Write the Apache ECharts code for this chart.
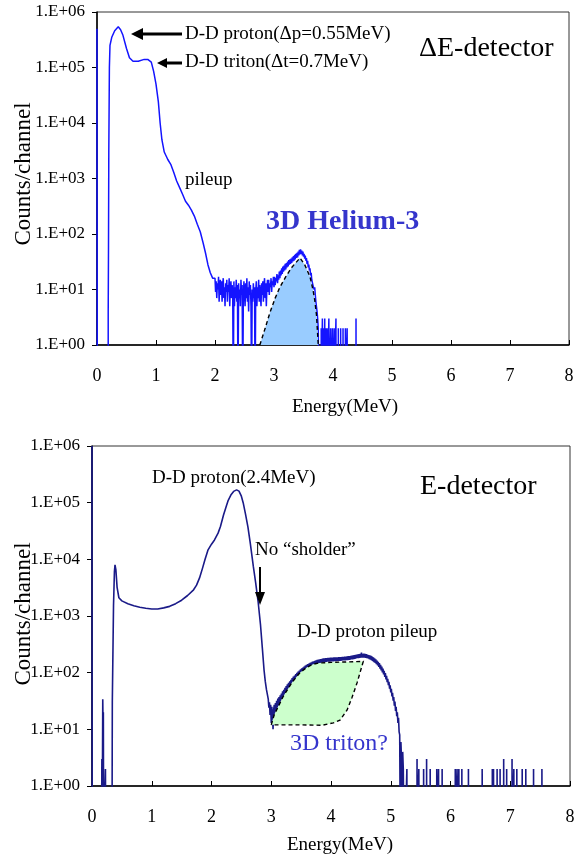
<!DOCTYPE html>
<html><head><meta charset="utf-8">
<script src="https://cdn.jsdelivr.net/npm/echarts@6/dist/echarts.min.js"></script>
<style>html,body{margin:0;padding:0;background:#fff}#c{width:584px;height:854px}</style>
</head><body><div id="c"></div>
<script>
// ---------- tick labels ----------
const xTickLabels = ['0','1','2','3','4','5','6','7','8'];
const yTickLabels = ['1.E+00','1.E+01','1.E+02','1.E+03','1.E+04','1.E+05','1.E+06'];

// ---------- ΔE-detector spectrum ----------
// smooth part [energy MeV, counts]
const deHead = [[0,5e5],[0,7000],[0.005,0],[0.19,0],[0.19,4],[0.195,60],[0.2,3000],[0.21,1e5],[0.22,2.5e5],[0.25,3.5e5],[0.3,4.6e5],[0.36,5.4e5],[0.4,4.8e5],[0.44,3.8e5],[0.5,2.2e5],[0.55,1.5e5],[0.61,1.3e5],[0.7,1.3e5],[0.8,1.4e5],[0.86,1.4e5],[0.92,1.25e5],[0.96,8.5e4],[1.0,5e4],[1.04,2.4e4],[1.07,1.0e4],[1.1,5000],[1.14,3000],[1.2,2200],[1.25,1800],[1.3,1300],[1.35,900],[1.41,650],[1.45,520],[1.5,390],[1.55,330],[1.6,270],[1.65,210],[1.7,150],[1.75,110],[1.8,68],[1.84,45],[1.88,28],[1.92,20],[1.96,16]];
// noisy part, one value per 0.01 MeV channel starting at 2.00 MeV
const deNoiseStart = 2.00;
const deNoise = [
16,9,14,7,13,10,17,6,12,15, 8,14,6,12,16,7,11,5,13,9,
15,6,12,9,16,5,11,14,7,12, 9,0,14,5,11,7,15,6,12,0,
13,7,10,5,15,8,12,0,6,14, 9,5,13,7,16,6,11,4,14,8,
12,5,0,10,6,13,7,11,0,9, 14,5,11,7,15,6,12,8,5,13,
8,14,6,12,16,7,13,5,11,15, 9,15,8,13,11,16,9,14,12,17,
11,17,12,16,14,19,13,18,15,21, 16,22,18,24,19,26,21,27,22,29,
23,30,25,32,26,34,28,35,29,36, 30,38,32,40,33,42,35,44,37,46,
38,48,41,52,43,53,44,50,41,48, 39,44,36,41,33,37,29,33,25,28,
22,24,18,20,15,16,12,13,10,11, 8,6,6,4,3,2,0,0,0,0];
// isolated single counts above 3.8 MeV
const deTailE = [3.80,3.82,3.84,3.86,3.88,3.90,3.93,3.96,3.99,4.02,4.05,4.09,4.13,4.17,4.21,4.24,4.39];
const deTailC = [2,3,2,3,2,2,3,2,2,2,3,2,2,2,2,2,3];
// 3D Helium-3 region (dashed outline)
const deFill = [[2.76,1],[2.85,2],[2.93,3.8],[3.02,7],[3.1,11],[3.2,17],[3.3,25],[3.44,37],[3.52,28],[3.61,17],[3.66,10],[3.69,6.5],[3.72,3.5],[3.75,1]];

// ---------- E-detector spectrum ----------
const eHead = [[0,1e6],[0,3.5e4],[0.004,0],[0.16,0],[0.165,3],[0.17,0],[0.175,0],[0.18,34],[0.185,12],[0.19,20],[0.195,0],[0.22,0],[0.225,2],[0.23,0],[0.335,0],[0.34,30],[0.35,30],[0.36,1500],[0.375,6000],[0.385,8000],[0.4,6500],[0.42,3200],[0.45,2100],[0.5,1850],[0.6,1650],[0.7,1520],[0.8,1430],[0.9,1370],[1.0,1330],[1.1,1330],[1.2,1390],[1.3,1480],[1.4,1650],[1.5,1900],[1.6,2300],[1.7,2900],[1.75,3500],[1.8,4700],[1.85,7000],[1.89,9800],[1.94,14500],[2.0,18500],[2.05,22000],[2.11,29000],[2.15,38000],[2.2,60000],[2.25,88000],[2.28,110000],[2.33,140000],[2.37,158000],[2.42,168000],[2.46,160000],[2.5,130000],[2.53,100000],[2.57,62000],[2.61,37000],[2.65,19000],[2.7,7500],[2.74,3800],[2.78,1800],[2.82,700],[2.85,280],[2.88,110],[2.9,70],[2.92,50]];
const eNoiseStart = 2.95;
const eNoise = [
34,24,30,18,27,13,25,17,10,22, 27,18,29,21,32,24,35,26,37,28,
40,31,43,34,47,37,50,40,54,44, 58,47,62,51,66,55,70,58,75,62,
80,67,85,71,89,75,94,80,99,84, 104,89,109,93,114,97,119,101,123,106,
128,110,133,114,137,117,141,121,145,125, 149,128,152,131,156,134,159,137,162,140,
165,143,168,145,170,147,172,149,174,151, 176,152,178,153,179,154,180,155,181,156,
182,157,183,157,184,158,184,158,185,159, 186,160,186,160,187,161,187,161,188,162,
188,162,189,163,190,164,190,164,191,165, 192,166,193,167,195,168,196,169,198,171,
200,172,202,174,204,176,206,178,208,180, 210,181,212,183,214,184,225,185,215,184,
216,184,214,183,212,181,209,178,205,174, 202,170,197,165,192,160,186,154,179,148,
172,141,164,134,156,126,147,118,138,110, 128,101,118,93,108,84,98,76,88,68,
78,60,69,52,60,45,52,38,44,32, 37,26,31,21,25,17,20,13,16,9,
8,0,6,3,0,4,2,0,1,0];
const eTailE = [5.27,5.44,5.47,5.55,5.60,5.66,5.77,5.80,5.86,6.08,6.11,6.14,6.19,6.30,6.53,6.70,6.72,6.78,6.83,6.89,6.94,7.03,7.06,7.11,7.20,7.26,7.39,7.53];
const eTailC = [2,3,2,2,3,2,2,2,2,2,2,2,2,2,2,2,2,2,2,3,2,3,2,2,2,2,2,2];
// "3D triton?" region (dashed outline)
const eFill = [[3.0,12],[3.05,18],[3.2,38],[3.35,68],[3.48,100],[3.6,125],[3.7,141],[3.8,148],[4.0,152],[4.3,155],[4.54,158],[4.44,68],[4.35,36],[4.27,22],[4.15,14.5],[4.04,13],[3.85,11.8],[3.5,12],[3.0,12]];

// ---------- build ----------
const ZERO = 0.1;            // empty channel: drawn below the 1.E+00 floor (clipped)
const CH = 0.01;             // channel width, MeV
function spectrum(head, n0, noise, tE, tC) {
  const out = head.map(p => [p[0], p[1] > 0 ? p[1] : ZERO]);
  noise.forEach((v, i) => out.push([+(n0 + i * CH).toFixed(3), v > 0 ? v : ZERO]));
  tE.forEach((e, i) => { out.push([e, ZERO], [e, tC[i]], [e + 0.002, ZERO]); });
  return out;
}
const deLine = spectrum(deHead, deNoiseStart, deNoise, deTailE, deTailC);
const eLine = spectrum(eHead, eNoiseStart, eNoise, eTailE, eTailC);

const SERIF = 'Liberation Serif';
const chart = echarts.init(document.getElementById('c'), null, {renderer: 'canvas'});

function xAx(gi) {
  return {type: 'value', gridIndex: gi, min: 0, max: 8, interval: 1,
    axisLine: {lineStyle: {color: '#000', width: 1.5}},
    axisTick: {inside: true, length: 5, lineStyle: {color: '#000'}},
    splitLine: {show: false},
    axisLabel: {margin: 22, fontFamily: SERIF, fontSize: 18, color: '#000',
      formatter: v => xTickLabels[Math.round(v)]}};
}
function yAx(gi) {
  return {type: 'log', logBase: 10, gridIndex: gi, min: 1, max: 1e6,
    axisLine: {show: true, lineStyle: {color: '#000', width: 1.5}},
    axisTick: {show: true, length: 5, lineStyle: {color: '#000'}},
    minorTick: {show: false}, splitLine: {show: false},
    axisLabel: {margin: 12, fontFamily: SERIF, fontSize: 17, color: '#000',
      formatter: v => yTickLabels[Math.round(Math.log10(v))]}};
}
function fillSeries(gi, poly, color) {
  return {type: 'custom', xAxisIndex: gi, yAxisIndex: gi, data: poly, z: 3, silent: true,
    encode: {x: 0, y: 1},
    renderItem: (params, api) => {
      if (params.dataIndex !== 0) return;
      const pts = poly.map(p => api.coord(p));
      return {type: 'group', children: [
        {type: 'polygon', shape: {points: pts}, style: {fill: color}},
        {type: 'polyline', shape: {points: pts}, style: {fill: null, stroke: '#000', lineWidth: 1.4, lineDash: [4, 3]}}
      ]};
    }};
}
function txt(x, y, s, size, opt) {
  opt = opt || {};
  return {type: 'text', x: x, y: y, rotation: opt.rot || 0, z: 100,
    style: {text: s, x: 0, y: 0, fontFamily: SERIF, fontSize: size, fontWeight: opt.bold ? 'bold' : 'normal',
      fill: opt.color || '#000', textAlign: opt.align || 'left', textVerticalAlign: 'middle'}};
}
function arrowH(xTip, xTail, y, head, half) {
  return [{type: 'line', z: 100, shape: {x1: xTail, y1: y, x2: xTip + head - 1, y2: y}, style: {stroke: '#000', lineWidth: 3}},
          {type: 'polygon', z: 100, shape: {points: [[xTip, y], [xTip + head, y - half], [xTip + head, y + half]]}, style: {fill: '#000'}}];
}
function arrowV(x, yTail, yTip, head, half) {
  return [{type: 'line', z: 100, shape: {x1: x, y1: yTail, x2: x, y2: yTip - head + 1}, style: {stroke: '#000', lineWidth: 2}},
          {type: 'polygon', z: 100, shape: {points: [[x, yTip], [x - half, yTip - head], [x + half, yTip - head]]}, style: {fill: '#000'}}];
}

const graphics = [
  txt(185, 34, 'D-D proton(Δp=0.55MeV)', 19),
  txt(185, 62, 'D-D triton(Δt=0.7MeV)', 19),
  ...arrowH(131, 182, 34, 12, 6),
  ...arrowH(157, 182, 63, 10, 5),
  txt(185, 180, 'pileup', 19),
  txt(419, 49, 'ΔE-detector', 28),
  txt(266, 222, '3D Helium-3', 28, {bold: true, color: '#3535cc'}),
  txt(345, 407, 'Energy(MeV)', 19, {align: 'center'}),
  txt(24, 174, 'Counts/channel', 23, {align: 'center', rot: Math.PI / 2}),
  txt(152, 478, 'D-D proton(2.4MeV)', 19),
  txt(420, 487, 'E-detector', 28),
  txt(255, 550, 'No “sholder”', 19),
  ...arrowV(260, 567, 605, 13, 5),
  txt(297, 632, 'D-D proton pileup', 19),
  txt(290, 744, '3D triton?', 24, {color: '#3535cc'}),
  txt(340, 845, 'Energy(MeV)', 19, {align: 'center'}),
  txt(24, 614, 'Counts/channel', 23, {align: 'center', rot: Math.PI / 2})
];

chart.setOption({
  animation: false,
  backgroundColor: '#fff',
  grid: [
    {left: 97, top: 12, width: 472, height: 333, show: true, borderColor: '#333', borderWidth: 1, backgroundColor: 'transparent'},
    {left: 92, top: 446, width: 478, height: 340, show: true, borderColor: '#333', borderWidth: 1, backgroundColor: 'transparent'}
  ],
  xAxis: [xAx(0), xAx(1)],
  yAxis: [yAx(0), yAx(1)],
  series: [
    {type: 'line', xAxisIndex: 0, yAxisIndex: 0, data: deLine, symbol: 'none', clip: true, z: 2,
      lineStyle: {color: '#1414ff', width: 1.5}},
    fillSeries(0, deFill, '#99ccff'),
    {type: 'line', xAxisIndex: 1, yAxisIndex: 1, data: eLine, symbol: 'none', clip: true, z: 2,
      lineStyle: {color: '#1a1a88', width: 1.6}},
    fillSeries(1, eFill, '#ccffcc')
  ],
  graphic: graphics
});
</script></body></html>
